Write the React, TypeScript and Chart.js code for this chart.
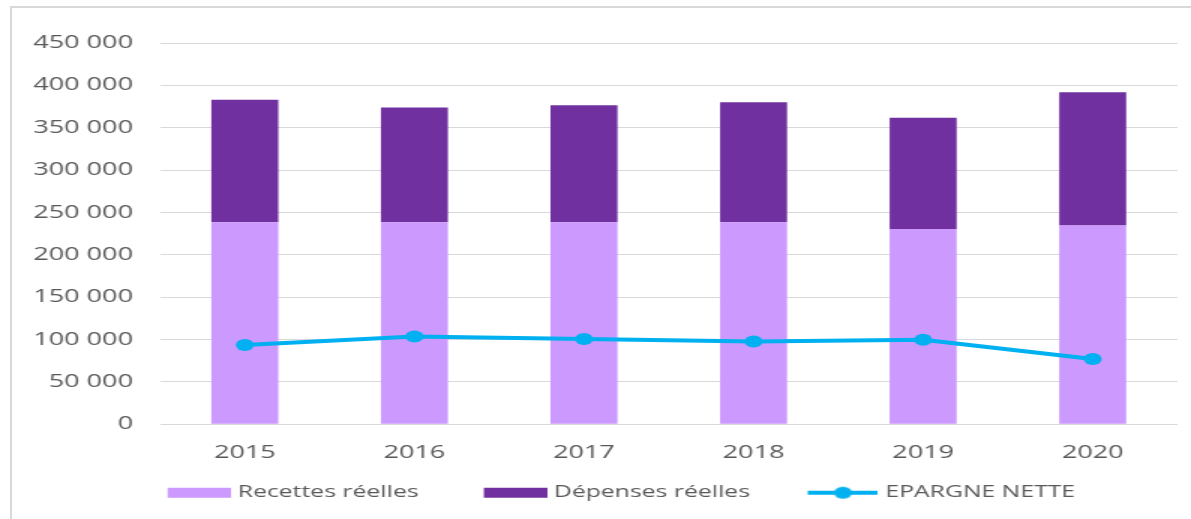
import React, { useEffect, useRef } from "react";
import { Chart, registerables } from "chart.js";

Chart.register(...registerables);

const years = ["2015", "2016", "2017", "2018", "2019", "2020"];
const recettesReelles = [238400, 238400, 238400, 238400, 230400, 234500];
const depensesReelles = [144600, 135400, 138100, 141700, 131500, 157500];
const epargneNette = [93500, 103700, 100700, 97800, 99800, 77000];
const seriesLabels = ["Recettes réelles", "Dépenses réelles", "EPARGNE NETTE"];
const yMin = 0;
const yMax = 450000;
const yStep = 50000;

const COLOR_RECETTES = "#CC99FF";
const COLOR_DEPENSES = "#7030A0";
const COLOR_EPARGNE = "#00B0F0";
const TEXT = "#595959";
const GRID = "#D9D9D9";
const FONT = "'Open Sans', 'Noto Sans', sans-serif";

const VIEW_W = 1191;
const VIEW_H = 519;
const INNER_W = 794;
const SX = VIEW_W / INNER_W;

const fmt = (v: number) => String(v).replace(/\B(?=(\d{3})+(?!\d))/g, " ");

function makeIcon(kind: "bar" | "line", color: string): HTMLCanvasElement {
  const c = document.createElement("canvas");
  c.width = 79;
  c.height = 14;
  const ctx = c.getContext("2d")!;
  if (kind === "bar") {
    ctx.fillStyle = color;
    ctx.fillRect(37, 2, 42, 10);
  } else {
    ctx.strokeStyle = color;
    ctx.lineWidth = 4;
    ctx.beginPath();
    ctx.moveTo(32, 7);
    ctx.lineTo(79, 7);
    ctx.stroke();
    ctx.fillStyle = color;
    ctx.beginPath();
    ctx.arc(55.5, 7, 6, 0, Math.PI * 2);
    ctx.fill();
  }
  return c;
}

export default function App() {
  const ref = useRef<HTMLCanvasElement | null>(null);

  useEffect(() => {
    if (!ref.current) return;
    const icons = [
      makeIcon("bar", COLOR_RECETTES),
      makeIcon("bar", COLOR_DEPENSES),
      makeIcon("line", COLOR_EPARGNE),
    ];
    const chart = new Chart(ref.current, {
      type: "bar",
      data: {
        labels: years,
        datasets: [
          {
            type: "bar",
            label: seriesLabels[0],
            data: recettesReelles,
            backgroundColor: COLOR_RECETTES,
            borderWidth: 0,
            barPercentage: 0.395,
            categoryPercentage: 1,
            stack: "bars",
            order: 1,
          },
          {
            type: "bar",
            label: seriesLabels[1],
            data: depensesReelles,
            backgroundColor: COLOR_DEPENSES,
            borderWidth: 0,
            barPercentage: 0.395,
            categoryPercentage: 1,
            stack: "bars",
            order: 1,
          },
          {
            type: "line",
            label: seriesLabels[2],
            data: epargneNette,
            borderColor: COLOR_EPARGNE,
            backgroundColor: COLOR_EPARGNE,
            borderWidth: 4,
            pointRadius: 6,
            pointBackgroundColor: COLOR_EPARGNE,
            pointBorderWidth: 0,
            tension: 0,
            fill: false,
            stack: "line",
            order: 0,
          } as any,
        ],
      },
      options: {
        responsive: false,
        animation: false,
        devicePixelRatio: 1,
        layout: { padding: { left: 10, right: 9, top: 43, bottom: 8 } },
        plugins: {
          tooltip: { enabled: false },
          legend: {
            position: "bottom",
            labels: {
              usePointStyle: true,
              pointStyleWidth: 72,
              padding: 10,
              color: TEXT,
              font: { family: FONT, size: 16.5 },
              sort: (a: any, b: any) => a.datasetIndex - b.datasetIndex,
              generateLabels: (ch: any) => {
                const items = Chart.defaults.plugins.legend.labels.generateLabels(ch);
                return items.map((it: any) => ({
                  ...it,
                  pointStyle: icons[it.datasetIndex],
                  lineWidth: 0,
                }));
              },
            },
          },
        },
        scales: {
          x: {
            stacked: true,
            grid: { display: false, drawTicks: false },
            border: { display: false },
            ticks: { color: TEXT, font: { family: FONT, size: 18 }, padding: 18 },
            afterFit: (s: any) => {
              s.height = 50.2;
            },
          },
          y: {
            stacked: true,
            min: yMin,
            max: yMax,
            grid: { color: GRID, drawTicks: false, lineWidth: 1 },
            border: { display: false },
            ticks: {
              stepSize: yStep,
              padding: 18,
              color: TEXT,
              font: { family: FONT, size: 18 },
              callback: (v: any) => fmt(Number(v)),
            },
            afterFit: (s: any) => {
              s.width = 96.7;
            },
          },
        },
      },
    });
    return () => chart.destroy();
  }, []);

  return (
    <div
      style={{
        position: "absolute",
        left: 0,
        top: 0,
        width: VIEW_W,
        height: VIEW_H,
        overflow: "hidden",
        background: "#fff",
      }}
    >
      <div
        style={{
          position: "absolute",
          left: 10,
          top: 6,
          width: 1300,
          height: 600,
          borderLeft: `2px solid ${GRID}`,
          borderTop: `2px solid ${GRID}`,
          boxSizing: "border-box",
        }}
      />
      <div
        style={{
          position: "absolute",
          left: 0,
          top: 0,
          width: INNER_W,
          height: VIEW_H,
          transform: `scaleX(${SX})`,
          transformOrigin: "0 0",
        }}
      >
        <canvas ref={ref} width={INNER_W} height={VIEW_H} style={{ display: "block" }} />
      </div>
    </div>
  );
}
